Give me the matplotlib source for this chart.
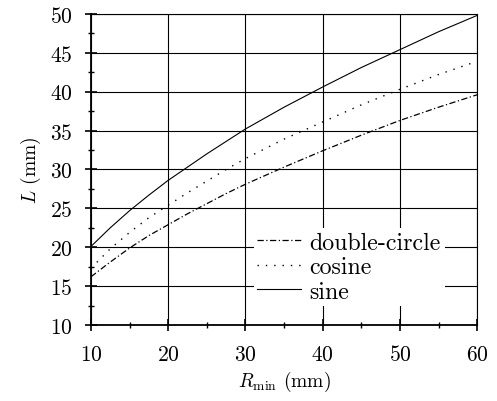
import matplotlib
matplotlib.use("Agg")
from matplotlib import pyplot as plt
from matplotlib.ticker import MultipleLocator

plt.rcParams['font.family'] = 'serif'
plt.rcParams['font.serif'] = ['cmr10']
plt.rcParams['mathtext.fontset'] = 'cm'
plt.rcParams['axes.formatter.use_mathtext'] = True

# curve values
r_min = [10, 12.5, 15, 17.5, 20, 22.5, 25, 27.5, 30, 35, 40, 45, 50, 55, 60]
sine = [20.1, 22.5, 24.7, 26.7, 28.6, 30.3, 32.0, 33.6, 35.2, 38.0, 40.6, 43.1, 45.4, 47.7, 49.8]
cosine = [17.3, 19.8, 21.9, 23.8, 25.4, 27.0, 28.5, 30.0, 31.4, 33.9, 36.1, 38.3, 40.3, 42.2, 43.9]
double_circle = [16.2, 18.1, 19.9, 21.5, 22.9, 24.3, 25.6, 26.9, 28.1, 30.3, 32.4, 34.4, 36.3, 38.0, 39.6]

fig = plt.figure(figsize=(4.97, 4.02), dpi=100)
ax = fig.add_axes([0.183, 0.189, 0.777, 0.774])

ax.plot(r_min, double_circle, color='black', lw=0.9, dashes=(5, 2, 1, 2), label='double-circle')
ax.plot(r_min, cosine, color='black', lw=1.0, dashes=(1, 5), label='cosine')
ax.plot(r_min, sine, color='black', lw=0.8, label='sine')

ax.set_xlim(10, 60)
ax.set_ylim(10, 50)
ax.xaxis.set_major_locator(MultipleLocator(10))
ax.xaxis.set_minor_locator(MultipleLocator(5))
ax.yaxis.set_major_locator(MultipleLocator(5))
ax.yaxis.set_minor_locator(MultipleLocator(2.5))
ax.grid(True, which='major', color='black', lw=0.8)
ax.tick_params(which='major', direction='inout', length=8, width=1.2, labelsize=15.5)
ax.tick_params(axis='x', which='major', pad=10)
ax.tick_params(axis='y', which='major', pad=9)
ax.tick_params(which='minor', direction='inout', length=5, width=1.0)
for s in ax.spines.values():
    s.set_linewidth(0.8)
ax.spines['left'].set_linewidth(1.3)
ax.spines['bottom'].set_linewidth(1.3)

ax.set_xlabel(r'$R_{\rm min}$ (mm)', fontsize=14, labelpad=3)
ax.set_ylabel(r'$L$ (mm)', fontsize=14, labelpad=5)

leg = ax.legend(loc='upper left', bbox_to_anchor=(0.39, 0.35), fontsize=17.2,
                frameon=True, fancybox=False, edgecolor='none', facecolor='white',
                framealpha=1, handlelength=1.85, labelspacing=0.1, borderpad=0.15,
                handletextpad=0.35)

fig.savefig('out.png', dpi=100)
